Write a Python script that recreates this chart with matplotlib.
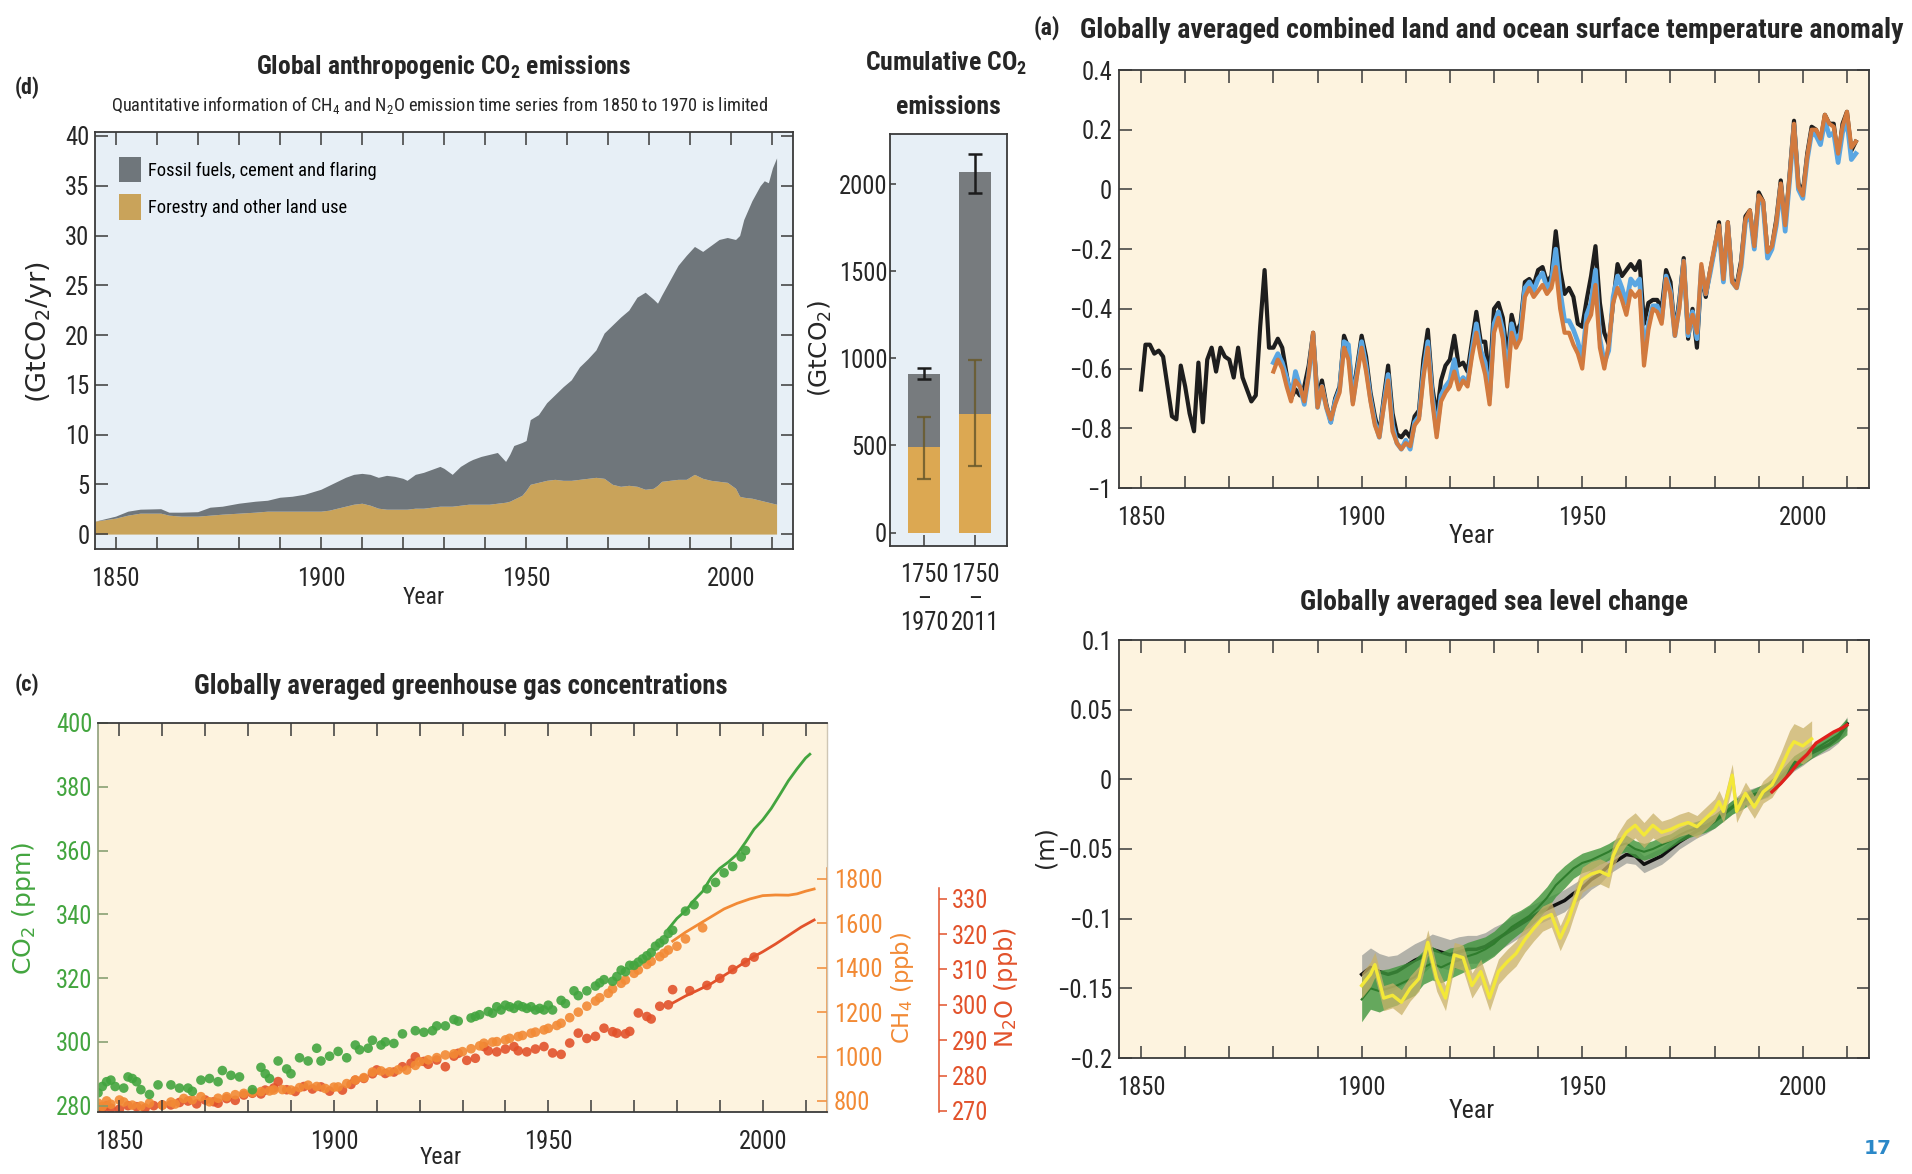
import numpy as np
import matplotlib
matplotlib.use('Agg')
import matplotlib.pyplot as plt
from matplotlib import font_manager as fm
from matplotlib.ticker import MultipleLocator, FixedLocator, FuncFormatter
from matplotlib.patches import Patch

# ---------------- data: (d) annual anthropogenic CO2 emissions ----------------
em_years = [1845, 1850, 1853, 1856, 1861, 1863, 1866, 1870, 1873, 1876, 1880, 1884, 1887, 1890,
            1893, 1896, 1900, 1902, 1904, 1906, 1908, 1910, 1912, 1914, 1916, 1918, 1920, 1921,
            1923, 1925, 1927, 1929, 1930, 1932, 1934, 1936, 1937, 1939, 1941, 1943, 1945, 1946,
            1947, 1949, 1950, 1951, 1953, 1955, 1957, 1959, 1961, 1963, 1965, 1967, 1969, 1971,
            1973, 1975, 1977, 1979, 1981, 1982, 1983, 1985, 1987, 1989, 1991, 1993, 1995, 1997,
            1999, 2001, 2002, 2003, 2005, 2007, 2008, 2009, 2010, 2011]
em_total = [1.3, 1.8, 2.3, 2.5, 2.55, 2.2, 2.2, 2.25, 2.7, 2.8, 3.1, 3.3, 3.4, 3.7,
            3.8, 4.0, 4.5, 4.9, 5.3, 5.7, 6.0, 6.1, 6.0, 5.7, 5.9, 5.8, 5.6, 5.4,
            6.0, 6.2, 6.5, 6.8, 6.6, 6.0, 6.8, 7.3, 7.5, 7.8, 8.0, 8.2, 7.3, 8.0,
            8.9, 9.2, 9.4, 11.5, 12.0, 13.2, 14.0, 14.8, 15.5, 16.8, 17.6, 18.5, 20.2, 21.0,
            21.8, 22.5, 23.8, 24.3, 23.6, 23.2, 24.0, 25.5, 27.0, 28.0, 28.9, 28.4, 29.0, 29.6,
            29.8, 29.6, 30.0, 31.6, 33.5, 35.0, 35.5, 35.3, 36.8, 37.8]
em_land = [1.3, 1.6, 1.9, 2.1, 2.1, 1.9, 1.8, 1.8, 1.9, 2.0, 2.1, 2.2, 2.3, 2.3,
           2.3, 2.3, 2.3, 2.4, 2.6, 2.8, 3.0, 3.1, 2.9, 2.6, 2.5, 2.5, 2.5, 2.5,
           2.6, 2.6, 2.7, 2.8, 2.8, 2.8, 2.9, 3.0, 3.0, 3.0, 3.0, 3.1, 3.2, 3.3,
           3.5, 3.9, 4.4, 5.0, 5.2, 5.4, 5.5, 5.4, 5.4, 5.5, 5.6, 5.7, 5.6, 5.0,
           4.8, 4.9, 4.8, 4.5, 4.6, 4.9, 5.3, 5.4, 5.5, 5.5, 6.0, 5.6, 5.4, 5.3,
           5.2, 4.6, 3.8, 3.7, 3.6, 3.4, 3.3, 3.2, 3.1, 3.0]

# ---------------- data: cumulative CO2 emissions ----------------
cum_labels = ['1750\n\u2013\n1970', '1750\n\u2013\n2011']
cum_total = [910, 2070]
cum_total_lo = [880, 1950]
cum_total_hi = [945, 2170]
cum_land = [490, 680]
cum_land_lo = [310, 380]
cum_land_hi = [665, 990]

# ---------------- data: (a) temperature anomaly ----------------
had_years = list(range(1850, 2013))
had_vals = [-0.67, -0.52, -0.52, -0.55, -0.54, -0.56, -0.66, -0.76, -0.77, -0.59,
            -0.66, -0.75, -0.81, -0.58, -0.78, -0.57, -0.53, -0.61, -0.53, -0.56,
            -0.57, -0.63, -0.53, -0.63, -0.67, -0.71, -0.69, -0.46, -0.27, -0.53,
            -0.53, -0.50, -0.53, -0.62, -0.70, -0.67, -0.69, -0.66, -0.59, -0.48,
            -0.70, -0.64, -0.72, -0.78, -0.70, -0.66, -0.49, -0.53, -0.69, -0.59,
            -0.49, -0.56, -0.68, -0.76, -0.82, -0.70, -0.59, -0.75, -0.82, -0.83,
            -0.81, -0.83, -0.76, -0.74, -0.57, -0.47, -0.66, -0.76, -0.64, -0.59,
            -0.57, -0.49, -0.59, -0.58, -0.61, -0.51, -0.41, -0.51, -0.51, -0.64,
            -0.40, -0.38, -0.43, -0.56, -0.42, -0.48, -0.45, -0.31, -0.30, -0.32,
            -0.27, -0.26, -0.31, -0.29, -0.14, -0.27, -0.35, -0.33, -0.36, -0.45,
            -0.46, -0.37, -0.29, -0.19, -0.38, -0.48, -0.52, -0.38, -0.25, -0.29,
            -0.27, -0.25, -0.27, -0.24, -0.45, -0.38, -0.37, -0.37, -0.40, -0.27,
            -0.31, -0.48, -0.37, -0.23, -0.50, -0.40, -0.53, -0.28, -0.36, -0.27,
            -0.20, -0.11, -0.30, -0.11, -0.30, -0.32, -0.24, -0.09, -0.07, -0.19,
            -0.01, -0.04, -0.21, -0.19, -0.10, 0.03, -0.12, 0.05, 0.23, 0.02,
            -0.01, 0.12, 0.21, 0.20, 0.16, 0.25, 0.22, 0.22, 0.10, 0.22,
            0.26, 0.13, 0.16]
other_years = list(range(1880, 2013))
noaa_vals = [-0.61, -0.57, -0.60, -0.66, -0.71, -0.64, -0.66, -0.71, -0.62, -0.48,
             -0.73, -0.66, -0.73, -0.77, -0.72, -0.68, -0.53, -0.57, -0.72, -0.62,
             -0.53, -0.61, -0.71, -0.79, -0.83, -0.73, -0.64, -0.81, -0.85, -0.87,
             -0.85, -0.86, -0.79, -0.77, -0.63, -0.53, -0.71, -0.83, -0.71, -0.68,
             -0.66, -0.61, -0.67, -0.64, -0.66, -0.56, -0.48, -0.56, -0.62, -0.72,
             -0.48, -0.43, -0.50, -0.66, -0.48, -0.53, -0.50, -0.36, -0.33, -0.36,
             -0.34, -0.32, -0.35, -0.33, -0.26, -0.40, -0.48, -0.48, -0.52, -0.55,
             -0.60, -0.45, -0.42, -0.32, -0.53, -0.60, -0.52, -0.38, -0.33, -0.37,
             -0.42, -0.34, -0.36, -0.34, -0.59, -0.47, -0.40, -0.41, -0.45, -0.30,
             -0.35, -0.49, -0.40, -0.24, -0.48, -0.42, -0.48, -0.25, -0.35, -0.27,
             -0.19, -0.12, -0.30, -0.11, -0.31, -0.33, -0.25, -0.10, -0.07, -0.19,
             -0.02, -0.04, -0.21, -0.19, -0.11, 0.02, -0.12, 0.04, 0.22, 0.01,
             -0.02, 0.11, 0.20, 0.20, 0.17, 0.25, 0.22, 0.21, 0.12, 0.21,
             0.26, 0.14, 0.16]
giss_vals = [-0.58, -0.55, -0.58, -0.63, -0.70, -0.61, -0.66, -0.72, -0.62, -0.49,
             -0.73, -0.66, -0.73, -0.78, -0.71, -0.67, -0.51, -0.52, -0.71, -0.61,
             -0.51, -0.59, -0.70, -0.78, -0.83, -0.72, -0.62, -0.79, -0.85, -0.87,
             -0.84, -0.87, -0.78, -0.76, -0.61, -0.51, -0.69, -0.81, -0.69, -0.66,
             -0.64, -0.57, -0.65, -0.63, -0.65, -0.54, -0.45, -0.54, -0.58, -0.70,
             -0.45, -0.41, -0.47, -0.63, -0.45, -0.51, -0.48, -0.33, -0.31, -0.34,
             -0.30, -0.28, -0.33, -0.31, -0.20, -0.34, -0.44, -0.44, -0.47, -0.51,
             -0.57, -0.42, -0.38, -0.27, -0.50, -0.58, -0.54, -0.36, -0.29, -0.33,
             -0.38, -0.30, -0.32, -0.30, -0.55, -0.45, -0.39, -0.39, -0.44, -0.29,
             -0.34, -0.49, -0.39, -0.24, -0.49, -0.41, -0.50, -0.26, -0.35, -0.28,
             -0.20, -0.13, -0.31, -0.12, -0.31, -0.33, -0.26, -0.11, -0.08, -0.20,
             -0.03, -0.05, -0.23, -0.20, -0.12, 0.01, -0.14, 0.03, 0.21, 0.00,
             -0.03, 0.10, 0.19, 0.18, 0.15, 0.23, 0.18, 0.19, 0.09, 0.19,
             0.23, 0.10, 0.12]

# ---------------- data: sea level change ----------------
sl_years = list(range(1900, 2011, 2))
sl_cw = [-0.140, -0.135, -0.138, -0.140, -0.138, -0.134, -0.130, -0.127, -0.122, -0.124,
         -0.126, -0.124, -0.122, -0.122, -0.120, -0.116, -0.112, -0.108, -0.104, -0.100,
         -0.096, -0.093, -0.090, -0.087, -0.082, -0.078, -0.072, -0.068, -0.062, -0.058,
         -0.054, -0.055, -0.061, -0.058, -0.055, -0.050, -0.045, -0.041, -0.037, -0.034,
         -0.030, -0.025, -0.020, -0.015, -0.012, -0.010, -0.008, -0.002, 0.004, 0.010,
         0.014, 0.019, 0.022, 0.025, 0.030, 0.040]
sl_cw_unc = [0.014, 0.014, 0.013, 0.013, 0.012, 0.012, 0.012, 0.012, 0.011, 0.011,
             0.011, 0.011, 0.010, 0.010, 0.010, 0.010, 0.009, 0.009, 0.009, 0.009,
             0.008, 0.008, 0.008, 0.008, 0.007, 0.007, 0.007, 0.007, 0.006, 0.006,
             0.006, 0.006, 0.006, 0.006, 0.006, 0.006, 0.005, 0.005, 0.005, 0.005,
             0.005, 0.005, 0.005, 0.005, 0.005, 0.005, 0.005, 0.005, 0.004, 0.004,
             0.004, 0.004, 0.004, 0.004, 0.004, 0.005]
sl_jev = [-0.158, -0.150, -0.152, -0.150, -0.148, -0.145, -0.142, -0.135, -0.132, -0.135,
          -0.132, -0.130, -0.127, -0.125, -0.122, -0.118, -0.112, -0.106, -0.102, -0.098,
          -0.092, -0.085, -0.076, -0.070, -0.064, -0.060, -0.058, -0.055, -0.052, -0.048,
          -0.046, -0.050, -0.052, -0.050, -0.047, -0.044, -0.040, -0.037, -0.035, -0.033,
          -0.030, -0.025, -0.020, -0.017, -0.013, -0.010, -0.007, -0.002, 0.005, 0.012,
          0.016, 0.020, 0.024, 0.028, 0.032, 0.038]
sl_jev_unc = [0.016, 0.015, 0.015, 0.014, 0.014, 0.013, 0.013, 0.012, 0.012, 0.011,
              0.011, 0.010, 0.010, 0.010, 0.009, 0.009, 0.009, 0.009, 0.008, 0.008,
              0.008, 0.008, 0.008, 0.008, 0.007, 0.007, 0.007, 0.006, 0.006, 0.006,
              0.006, 0.006, 0.006, 0.006, 0.006, 0.005, 0.005, 0.005, 0.005, 0.005,
              0.005, 0.005, 0.005, 0.005, 0.005, 0.005, 0.005, 0.005, 0.005, 0.005,
              0.005, 0.005, 0.005, 0.005, 0.005, 0.006]
sl_ry_years = [1900, 1902, 1903, 1905, 1907, 1909, 1911, 1913, 1915, 1917,
               1919, 1921, 1923, 1925, 1927, 1929, 1931, 1933, 1935, 1937,
               1939, 1941, 1943, 1945, 1947, 1948, 1950, 1952, 1954, 1956,
               1957, 1958, 1960, 1962, 1964, 1966, 1968, 1970, 1972, 1974,
               1976, 1978, 1980, 1981, 1982, 1984, 1985, 1987, 1989, 1991,
               1993, 1995, 1997, 1998, 2000, 2002]
sl_ry = [-0.148, -0.140, -0.133, -0.157, -0.155, -0.160, -0.150, -0.143, -0.117, -0.143,
         -0.157, -0.126, -0.128, -0.148, -0.138, -0.157, -0.138, -0.131, -0.125, -0.115,
         -0.107, -0.100, -0.097, -0.114, -0.100, -0.090, -0.072, -0.068, -0.066, -0.069,
         -0.055, -0.048, -0.038, -0.033, -0.040, -0.033, -0.038, -0.036, -0.033, -0.031,
         -0.034, -0.028, -0.022, -0.016, -0.023, 0.003, -0.023, -0.010, -0.020, -0.009,
         -0.004, 0.008, 0.022, 0.027, 0.024, 0.029]
sl_ry_unc = [0.009, 0.009, 0.009, 0.009, 0.009, 0.009, 0.009, 0.009, 0.009, 0.009,
             0.009, 0.009, 0.009, 0.009, 0.009, 0.009, 0.009, 0.009, 0.009, 0.009,
             0.009, 0.009, 0.009, 0.009, 0.009, 0.009, 0.009, 0.009, 0.009, 0.009,
             0.009, 0.009, 0.009, 0.009, 0.009, 0.009, 0.008, 0.008, 0.008, 0.008,
             0.008, 0.008, 0.008, 0.008, 0.008, 0.008, 0.008, 0.008, 0.008, 0.008,
             0.009, 0.011, 0.013, 0.013, 0.013, 0.013]
sl_sat_years = [1993, 1995, 1997, 1999, 2001, 2003, 2005, 2007, 2009, 2010]
sl_sat = [-0.009, -0.003, 0.004, 0.012, 0.018, 0.026, 0.030, 0.034, 0.037, 0.039]

# ---------------- data: (c) greenhouse gas concentrations ----------------
co2_dot_years = [1845, 1846, 1847, 1848, 1849, 1851, 1852, 1853, 1854, 1855, 1857, 1859, 1862,
                 1864, 1866, 1867, 1869, 1871, 1873, 1874, 1876, 1878, 1881, 1883, 1884, 1885,
                 1887, 1889, 1890, 1892, 1894, 1896, 1897, 1899, 1901, 1903, 1905, 1906, 1908,
                 1909, 1911, 1912, 1914, 1916, 1919, 1921, 1923, 1924, 1926, 1928, 1929, 1932,
                 1933, 1934, 1936, 1937, 1938, 1939, 1940, 1941, 1942, 1943, 1944, 1945, 1946,
                 1947, 1948, 1949, 1950, 1951, 1953, 1954, 1956, 1957, 1959, 1961, 1962, 1963,
                 1965, 1966, 1967, 1968, 1969, 1970, 1971, 1972, 1973, 1974, 1975, 1976, 1977,
                 1978, 1979, 1982, 1984, 1987, 1989, 1991, 1993, 1995, 1996]
co2_dot_vals = [284, 286, 287.5, 288, 286, 285.5, 289, 288.5, 287.5, 285, 283.5, 286.5, 286.5,
                285.5, 285.5, 284.5, 288, 288.5, 287.5, 291, 289.5, 289, 285, 292, 290, 288.5,
                294, 291.5, 290, 295, 294, 298, 294, 295.5, 297, 295, 299, 297.5, 298,
                300.5, 299, 300, 299.5, 302.5, 303.5, 303, 303.5, 305, 305, 307, 306.5, 307.5,
                308, 308.5, 309.5, 309, 311, 310, 311.5, 311, 310.5, 311.5, 311, 310.5, 311,
                310, 310.5, 310, 311.5, 310, 313, 312, 316, 314.5, 316, 317.5, 318.5, 319.5,
                319, 320.5, 322.5, 322, 324, 324, 325, 326, 327, 328, 330, 331, 332,
                334, 335, 341, 343, 348, 350, 353, 355, 358, 360]
co2_line_years = [1978, 1980, 1982, 1984, 1986, 1988, 1990, 1992, 1994, 1996, 1998, 2000,
                  2002, 2004, 2006, 2008, 2010, 2011]
co2_line_vals = [335.4, 338.7, 341.1, 344.4, 347.2, 351.6, 354.4, 356.4, 358.8, 362.6, 366.7,
                 369.6, 373.2, 377.5, 381.9, 385.6, 389.0, 390.2]

ch4_dot_years = [1845, 1846, 1847, 1848, 1850, 1851, 1853, 1855, 1857, 1860, 1862, 1863, 1865,
                 1867, 1869, 1871, 1873, 1875, 1877, 1879, 1881, 1883, 1885, 1886, 1888, 1890,
                 1892, 1894, 1896, 1898, 1900, 1901, 1903, 1905, 1907, 1909, 1911, 1913, 1915,
                 1917, 1919, 1920, 1922, 1924, 1926, 1928, 1930, 1932, 1934, 1935, 1937, 1938,
                 1940, 1941, 1943, 1944, 1946, 1947, 1949, 1950, 1952, 1953, 1955, 1957, 1959,
                 1961, 1962, 1964, 1965, 1967, 1968, 1970, 1971, 1973, 1974, 1976, 1977, 1978,
                 1980, 1982, 1986]
ch4_dot_vals = [790, 775, 800, 785, 804, 795, 781, 777, 790, 781, 795, 786, 811,
                805, 819, 796, 812, 819, 828, 834, 838, 842, 845, 849, 851, 849,
                860, 871, 865, 856, 862, 863, 878, 894, 905, 930, 935, 931, 940,
                939, 960, 977, 985, 995, 1007, 1012, 1022, 1035, 1048, 1060, 1065, 1067,
                1075, 1082, 1090, 1095, 1105, 1110, 1120, 1127, 1140, 1150, 1175, 1200, 1227,
                1250, 1265, 1285, 1305, 1330, 1345, 1375, 1390, 1415, 1429, 1450, 1465, 1480,
                1497, 1530, 1580]
ch4_line_years = [1979, 1982, 1985, 1988, 1991, 1994, 1997, 2000, 2003, 2006, 2008, 2010, 2012]
ch4_line_vals = [1520, 1560, 1595, 1630, 1665, 1690, 1710, 1725, 1728, 1727, 1733, 1745, 1755]

n2o_dot_years = [1845, 1846, 1847, 1848, 1850, 1852, 1854, 1856, 1858, 1860, 1862, 1864, 1866,
                 1868, 1870, 1872, 1873, 1875, 1877, 1879, 1881, 1883, 1884, 1886, 1887, 1889,
                 1891, 1893, 1895, 1897, 1899, 1902, 1904, 1905, 1907, 1909, 1910, 1912, 1914,
                 1916, 1918, 1919, 1921, 1922, 1924, 1926, 1928, 1929, 1931, 1933, 1935, 1936,
                 1938, 1940, 1942, 1943, 1945, 1947, 1949, 1951, 1953, 1955, 1957, 1959, 1961,
                 1963, 1965, 1966, 1968, 1969, 1971, 1973, 1974, 1976, 1978, 1979, 1983, 1987,
                 1990, 1993, 1996, 1998]
n2o_dot_vals = [271.0, 270.5, 271.5, 270.8, 270.5, 271.5, 271.2, 270.8, 271.5, 271.7, 271.7,
                272.4, 272.8, 272.0, 273.1, 272.6, 272.2, 273.5, 273.0, 274.5, 275.0, 274.8,
                275.9, 276.5, 278.3, 276.0, 275.5, 276.9, 276.2, 276.8, 275.6, 275.9, 277.5,
                278.7, 279.2, 280.5, 281.6, 280.6, 281.0, 282.5, 283.5, 285.3, 284.0, 283.2,
                284.4, 282.5, 285.5, 286.3, 284.3, 284.9, 288.2, 287.0, 286.7, 287.5, 288.2,
                287.0, 286.7, 287.5, 288.2, 286.4, 286.0, 289.2, 292.0, 290.5, 291.1, 293.4,
                292.4, 292.0, 291.8, 292.5, 297.7, 296.7, 296.0, 299.6, 300.0, 304.3, 304.0,
                305.5, 307.5, 310.0, 312.0, 313.5]
n2o_line_years = [1979, 1982, 1985, 1988, 1991, 1994, 1997, 2000, 2003, 2006, 2009, 2012]
n2o_line_vals = [300.5, 302.5, 304.2, 306.0, 308.3, 310.6, 313.0, 315.0, 317.2, 319.6, 322.0, 324.0]

# ---------------- style ----------------
W, H, DPI = 1912, 1174, 100
names = {f.name for f in fm.fontManager.ttflist}
COND = 'DejaVu Sans'
for cand in ['Liberation Sans Narrow', 'Roboto Condensed', 'Open Sans Condensed',
             'Noto Sans Condensed', 'DejaVu Sans Condensed', 'Ubuntu Condensed']:
    if cand in names:
        COND = cand
        break
WIDE = 'DejaVu Sans'
plt.rcParams['font.family'] = [COND, 'DejaVu Sans']
plt.rcParams['mathtext.fontset'] = 'custom'
plt.rcParams['mathtext.rm'] = COND
plt.rcParams['mathtext.it'] = COND
plt.rcParams['mathtext.bf'] = COND + ':bold'
plt.rcParams['mathtext.sf'] = WIDE

CREAM = '#fdf3df'
LBLUE = '#e7eff6'
GRAY = '#6f767b'
TAN = '#c9a35a'
CUM_GRAY = '#777b7e'
CUM_TAN = '#dca852'
TXT = '#262626'
SP = '#3a3a3a'
GREEN = '#43a53f'
ORANGE = '#f28a35'
RED = '#e2522b'

fig = plt.figure(figsize=(W / DPI, H / DPI), dpi=DPI)
fig.patch.set_facecolor('white')
R = fig.canvas.get_renderer()


def axrect(l, t, r, b):
    return [l / W, 1 - b / H, (r - l) / W, (b - t) / H]


def ftext(x, y, s, width=None, size=12, **kw):
    t = fig.text(x / W, 1 - y / H, s, ha='center', va='center', fontsize=size, **kw)
    if width:
        bb = t.get_window_extent(renderer=R)
        cur = bb.height if kw.get('rotation', 0) == 90 else bb.width
        t.set_fontsize(size * width / cur)
    return t


def size_for(s, width, **kw):
    t = fig.text(0, 0, s, fontsize=10, **kw)
    w = t.get_window_extent(renderer=R).width
    t.remove()
    return 10 * width / w


TFS = size_for('1850', 48)
fmt = FuncFormatter(lambda v, p: ('%g' % round(v, 4)).replace('-', '\u2212'))


def style_spines(ax, color=SP):
    for s in ax.spines.values():
        s.set_color(color)
        s.set_linewidth(1.3)


def year_axis(ax):
    ax.set_xlim(1845, 2015)
    ax.xaxis.set_major_locator(FixedLocator([1850, 1900, 1950, 2000]))
    ax.xaxis.set_minor_locator(MultipleLocator(10))
    ax.tick_params(axis='x', which='both', direction='in', top=True, bottom=True,
                   length=9, width=1.1, color=SP, labelsize=TFS, labelcolor=TXT, pad=13)


# ---------------- panel (d) ----------------
axd = fig.add_axes(axrect(95, 132, 793, 549))
axd.set_facecolor(LBLUE)
axd.fill_between(em_years, 0, em_land, color=TAN, lw=0)
axd.fill_between(em_years, em_land, em_total, color=GRAY, lw=0)
year_axis(axd)
axd.set_ylim(-1.5, 40.4)
axd.yaxis.set_major_locator(FixedLocator(list(range(0, 41, 5))))
axd.tick_params(axis='y', direction='in', left=True, right=True, length=9, width=1.1,
                color=SP, labelsize=TFS, labelcolor=TXT, pad=4)
style_spines(axd)
LFS = size_for('Fossil fuels, cement and flaring', 228)
em_px = LFS * DPI / 72
axd.legend(handles=[Patch(facecolor=GRAY, label='Fossil fuels, cement and flaring'),
                    Patch(facecolor=TAN, label='Forestry and other land use')],
           loc='upper left', bbox_to_anchor=(0.035, 0.94), frameon=False, fontsize=LFS,
           handlelength=22 / em_px, handleheight=32 / em_px, handletextpad=0.35,
           labelspacing=12 / em_px, borderpad=0, borderaxespad=0)

ftext(27, 88, '(d)', width=25, weight='bold', color=TXT)
ftext(443, 67, r'Global anthropogenic CO$_\mathbf{2}$ emissions', width=375, weight='bold', color=TXT)
ftext(440, 105, r'Quantitative information of CH$_4$ and N$_2$O emission time series from 1850 to 1970 is limited',
      width=657, color=TXT)
ftext(39, 332, r'(GtCO$_\mathsf{2}$/yr)', width=143, rotation=90, family=WIDE, color=TXT)
ftext(424, 598, 'Year', width=42, color=TXT)

# ---------------- cumulative panel ----------------
axb = fig.add_axes(axrect(890, 134, 1007, 546))
axb.set_facecolor(LBLUE)
xb = np.arange(len(cum_total))
fossil = np.array(cum_total) - np.array(cum_land)
axb.bar(xb, cum_land, width=0.62, color=CUM_TAN, lw=0)
axb.bar(xb, fossil, bottom=cum_land, width=0.62, color=CUM_GRAY, lw=0)
tot = np.array(cum_total)
lnd = np.array(cum_land)
axb.errorbar(xb, tot, yerr=[tot - np.array(cum_total_lo), np.array(cum_total_hi) - tot],
             fmt='none', ecolor='#1c1c1c', elinewidth=1.8, capsize=5, capthick=1.8)
axb.errorbar(xb, lnd, yerr=[lnd - np.array(cum_land_lo), np.array(cum_land_hi) - lnd],
             fmt='none', ecolor='#6a5a2c', elinewidth=1.6, capsize=5, capthick=1.6, alpha=0.85)
axb.set_xlim(-0.667, 1.62)
axb.set_ylim(-77, 2287)
axb.set_xticks(xb)
axb.set_xticklabels(cum_labels, linespacing=1.0)
axb.yaxis.set_major_locator(FixedLocator([0, 500, 1000, 1500, 2000]))
axb.tick_params(axis='y', direction='in', length=4, width=1.1, color=SP, labelsize=TFS,
                labelcolor=TXT, pad=2)
axb.tick_params(axis='x', direction='in', length=8, width=1.1, color=SP, labelsize=TFS,
                labelcolor=TXT, pad=12)
style_spines(axb)
cfs = ftext(946, 63, r'Cumulative CO$_\mathbf{2}$', width=163, weight='bold', color=TXT).get_fontsize()
ftext(948, 107, 'emissions', size=cfs, weight='bold', color=TXT)
ftext(820, 348, r'(GtCO$_\mathsf{2}$)', width=98, rotation=90, family=WIDE, color=TXT)

# ---------------- panel (a) ----------------
axa = fig.add_axes(axrect(1119, 70, 1869, 488))
axa.set_facecolor(CREAM)
axa.plot(had_years, had_vals, color='#1e1e1e', lw=3.0, solid_joinstyle='round', zorder=3)
axa.plot(other_years, giss_vals, color='#5aa6e2', lw=3.4, solid_joinstyle='round', zorder=4)
axa.plot(other_years, noaa_vals, color='#d27a3e', lw=3.0, solid_joinstyle='round', zorder=5)
year_axis(axa)
axa.set_ylim(-1, 0.4)
axa.yaxis.set_major_locator(FixedLocator([-1, -0.8, -0.6, -0.4, -0.2, 0, 0.2, 0.4]))
axa.yaxis.set_major_formatter(fmt)
axa.tick_params(axis='y', direction='in', left=True, right=True, length=9, width=1.1,
                color=SP, labelsize=TFS, labelcolor=TXT, pad=5)
style_spines(axa)
ftext(1047, 28, '(a)', width=27, weight='bold', color=TXT)
ftext(1492, 30, 'Globally averaged combined land and ocean surface temperature anomaly',
      width=825, weight='bold', color=TXT)
ftext(1472, 536, 'Year', width=46, color=TXT)

# ---------------- sea level panel ----------------
axs = fig.add_axes(axrect(1119, 640, 1869, 1058))
axs.set_facecolor(CREAM)
cw = np.array(sl_cw); cwu = np.array(sl_cw_unc)
jv = np.array(sl_jev); jvu = np.array(sl_jev_unc)
ry = np.array(sl_ry); ryu = np.array(sl_ry_unc)
axs.fill_between(sl_years, cw - cwu, cw + cwu, color='#9a9c98', alpha=0.75, lw=0, zorder=2)
axs.plot(sl_years, cw, color='#111111', lw=2.5, zorder=3)
axs.fill_between(sl_years, jv - jvu, jv + jvu, color='#3f963c', alpha=0.8, lw=0, zorder=4)
axs.plot(sl_years, jv, color='#2f7d2d', lw=1.5, zorder=4)
axs.fill_between(sl_ry_years, ry - ryu, ry + ryu, color='#c9b26a', alpha=0.75, lw=0, zorder=5)
axs.plot(sl_ry_years, ry, color='#f3e838', lw=2.4, zorder=6)
axs.plot(sl_sat_years, sl_sat, color='#e0201c', lw=2.4, zorder=7)
year_axis(axs)
axs.set_ylim(-0.2, 0.1)
axs.yaxis.set_major_locator(FixedLocator([-0.2, -0.15, -0.1, -0.05, 0, 0.05, 0.1]))
axs.yaxis.set_major_formatter(fmt)
axs.tick_params(axis='y', direction='in', left=True, right=True, length=9, width=1.1,
                color=SP, labelsize=TFS, labelcolor=TXT, pad=5)
style_spines(axs)
ftext(1494, 602, 'Globally averaged sea level change', width=390, weight='bold', color=TXT)
ftext(1045, 847, '(m)', width=42, rotation=90, family=WIDE, color=TXT)
ftext(1472, 1111, 'Year', width=46, color=TXT)

# ---------------- panel (c) ----------------
axc = fig.add_axes(axrect(98, 723, 827, 1112))
ax_m = axc.twinx()
ax_n = axc.twinx()
axc.set_zorder(3); ax_m.set_zorder(2); ax_n.set_zorder(1)
axc.patch.set_visible(False)
ax_n.patch.set_visible(True)
ax_n.patch.set_facecolor(CREAM)

ax_n.scatter(n2o_dot_years, n2o_dot_vals, s=48, color=RED, edgecolors='none', alpha=0.9)
ax_n.plot(n2o_line_years, n2o_line_vals, color=RED, lw=2.0)
ax_m.scatter(ch4_dot_years, ch4_dot_vals, s=48, color=ORANGE, edgecolors='none', alpha=0.9)
ax_m.plot(ch4_line_years, ch4_line_vals, color=ORANGE, lw=2.0)
axc.scatter(co2_dot_years, co2_dot_vals, s=48, color=GREEN, edgecolors='none', alpha=0.9)
axc.plot(co2_line_years, co2_line_vals, color=GREEN, lw=2.0)

year_axis(axc)
axc.set_ylim(278, 400)
ax_m.set_ylim(750, 2503)
ax_n.set_ylim(269.7, 379.7)
axc.yaxis.set_major_locator(FixedLocator(list(range(280, 401, 20))))
axc.tick_params(axis='y', direction='in', length=7, width=1.1, color='#7f9a6a',
                labelsize=TFS, labelcolor=GREEN, pad=4)
for k in ['top', 'bottom']:
    axc.spines[k].set_color(SP); axc.spines[k].set_linewidth(1.3)
axc.spines['left'].set_color('#8fa07a'); axc.spines['left'].set_linewidth(1.2)
axc.spines['right'].set_color('#cfc6b4'); axc.spines['right'].set_linewidth(1.0)

for k in ['top', 'bottom', 'left']:
    ax_m.spines[k].set_visible(False)
    ax_n.spines[k].set_visible(False)
ax_m.spines['right'].set_color(ORANGE); ax_m.spines['right'].set_linewidth(1.1)
ax_m.spines['right'].set_bounds(750, 1850)
ax_m.yaxis.set_major_locator(FixedLocator(list(range(800, 1801, 200))))
ax_m.tick_params(axis='y', direction='in', length=7, width=1.1, color=ORANGE,
                 labelsize=TFS, labelcolor=ORANGE, pad=5)
ax_n.spines['right'].set_position(('axes', 1.154))
ax_n.spines['right'].set_color(RED); ax_n.spines['right'].set_linewidth(1.1)
ax_n.spines['right'].set_bounds(269.7, 333)
ax_n.yaxis.set_major_locator(FixedLocator(list(range(270, 331, 10))))
ax_n.tick_params(axis='y', direction='out', length=6, width=1.1, color=RED,
                 labelsize=TFS, labelcolor=RED, pad=3)

ftext(27, 685, '(c)', width=25, weight='bold', color=TXT)
ftext(461, 687, 'Globally averaged greenhouse gas concentrations', width=536, weight='bold', color=TXT)
ftext(24, 908, r'CO$_\mathsf{2}$ (ppm)', width=134, rotation=90, family=WIDE, color=GREEN)
ftext(902, 988, r'CH$_\mathsf{4}$ (ppb)', width=113, rotation=90, family=WIDE, color=ORANGE)
ftext(1006, 988, r'N$_\mathsf{2}$O (ppb)', width=122, rotation=90, family=WIDE, color=RED)
ftext(441, 1158, 'Year', width=42, color=TXT)

ftext(1878, 1149, '17', width=28, family=WIDE, weight='bold', color='#2b88c8')

fig.savefig('out.png', dpi=DPI, facecolor='white')
